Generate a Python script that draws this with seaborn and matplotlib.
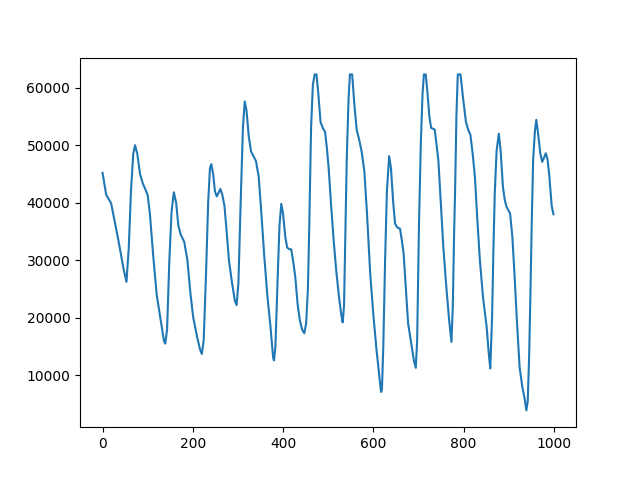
import matplotlib
matplotlib.use("Agg")
import matplotlib.pyplot as plt
import seaborn as sns

# values (index, value)
x_vals = [0, 8, 19, 35, 47, 53, 58, 63, 68, 72, 77, 83, 89, 95, 100, 105, 112, 120, 130, 136,
          139, 143, 148, 153, 158, 163, 168, 173, 181, 188, 195, 201, 210, 216, 220, 224, 229, 234, 238, 241,
          245, 249, 253, 257, 261, 265, 270, 275, 280, 287, 293, 297, 301, 306, 311, 315, 319, 324, 329, 335,
          340, 346, 352, 358, 365, 372, 378, 380, 383, 388, 392, 396, 400, 405, 409, 414, 418, 422, 427, 432,
          437, 442, 447, 451, 455, 458, 462, 466, 470, 474, 478, 483, 488, 493, 497, 501, 506, 512, 518, 524,
          529, 532, 535, 538, 541, 545, 548, 553, 558, 563, 569, 574, 580, 586, 593, 600, 607, 613, 617, 619,
          622, 626, 630, 635, 639, 644, 648, 653, 659, 663, 667, 672, 677, 684, 690, 694, 697, 701, 705, 709,
          712, 716, 720, 724, 728, 736, 740, 744, 750, 755, 762, 768, 773, 776, 779, 781, 784, 787, 793, 799,
          805, 810, 815, 820, 825, 830, 836, 843, 851, 856, 859, 863, 866, 869, 873, 878, 882, 887, 891, 895,
          899, 903, 908, 913, 918, 924, 930, 935, 939, 942, 945, 948, 951, 954, 958, 961, 965, 970, 974, 978,
          982, 986, 990, 995, 999]
y_vals = [45200, 41400, 39900, 33500, 28300, 26250, 32000, 42000, 48500, 50000, 48500, 45000, 43400, 42300, 41300, 38000, 31000, 24000, 19000, 16000,
          15500, 18000, 30000, 38500, 41800, 40000, 36000, 34500, 33200, 30000, 24000, 20000, 16500, 14500, 13700, 16000, 27000, 40000, 46000, 46700,
          45000, 42000, 41100, 41700, 42400, 41500, 39500, 35000, 30000, 26000, 23000, 22200, 26000, 40000, 53000, 57600, 56000, 51500, 48900, 48000,
          47200, 44500, 38000, 31000, 24000, 18500, 13000, 12600, 15000, 27000, 36000, 39800, 38000, 34000, 32200, 31900, 31900, 30000, 27100, 22500,
          19600, 18000, 17300, 19000, 25000, 36000, 53000, 60500, 62300, 62300, 59000, 54000, 53000, 52300, 49500, 46000, 40000, 33500, 28000, 23500,
          20500, 19200, 22000, 35000, 47500, 58000, 62300, 62300, 57000, 52700, 50800, 48900, 45500, 38000, 27700, 20500, 14400, 10000, 7100, 7500,
          15000, 30000, 42000, 48100, 46000, 40000, 36400, 35700, 35500, 33500, 31200, 25000, 19000, 15500, 12500, 11300, 16000, 35800, 50000, 59000,
          62300, 62300, 59000, 55000, 53000, 52700, 50000, 47400, 39000, 32300, 25000, 19500, 15800, 22000, 35000, 41700, 55000, 62300, 62300, 58000,
          54100, 52700, 51800, 48500, 44500, 37500, 30000, 23500, 18400, 13500, 11200, 20000, 32000, 41700, 49000, 52000, 49000, 42800, 40500, 39300,
          38700, 38100, 34000, 27100, 19500, 11400, 8000, 6000, 3900, 5500, 13000, 24200, 37000, 47500, 52500, 54400, 52000, 48500, 47100, 47800,
          48600, 47500, 44500, 39500, 38000]

fig, ax = plt.subplots(figsize=(6.4, 4.8), dpi=100)
sns.lineplot(x=x_vals, y=y_vals, ax=ax, color="#1f77b4", linewidth=1.5)
plt.savefig("out.png")
